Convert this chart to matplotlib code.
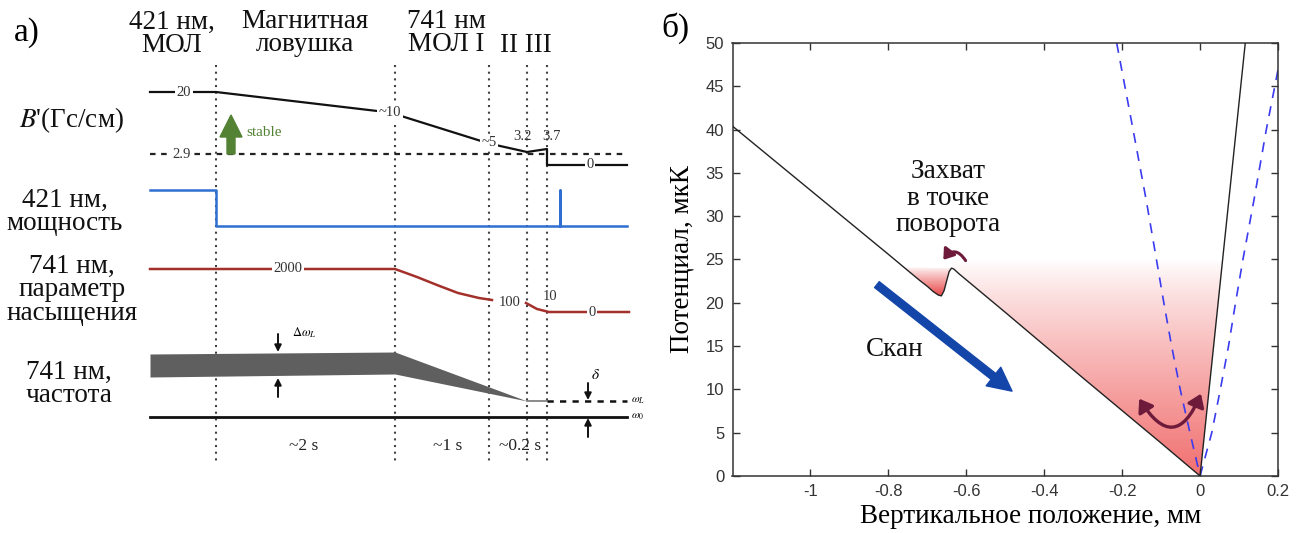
import numpy as np
import matplotlib
matplotlib.use("Agg")
import matplotlib.pyplot as plt
from matplotlib.patches import Polygon, FancyArrowPatch

plt.rcParams['font.family'] = ['Liberation Serif', 'DejaVu Serif']
plt.rcParams['mathtext.fontset'] = 'stix'

# ---------------- panel a) : timing diagram (schematic units) ----------------
phase_edges = [216, 395, 489, 527, 547]
phase_names = ['421 нм,\nМОЛ', 'Магнитная\nловушка', '741 нм\nМОЛ I', 'II III']
phase_name_x = [172, 305, 446, 526]
phase_name_y = [34, 33, 33, 45]
durations = ['~2 s', '~1 s', '~0.2 s']
duration_x = [304, 448, 520]

row_names = ["$B$'(Гс/см)", '421 нм,\nмощность', '741 нм,\nпараметр\nнасыщения', '741 нм,\nчастота']
row_name_x = [71, 65, 72, 69]
row_name_y = [120, 212, 290, 384]

# magnetic field gradient B' (Гс/см)
bgrad_t = [150, 216, 390, 489, 527, 547, 547, 627]
bgrad_y = [92, 92, 112.5, 143.5, 152, 149, 165, 165]
bgrad_labels = ['20', '~10', '~5', '0']
bgrad_label_t = [184, 390, 489, 590]
bgrad_label_y = [92, 113, 143, 165]
bgrad_top_labels = ['3.2', '3.7']
bgrad_top_t = [522, 551]
stable_level = 154          # 2.9 Гс/см
stable_label = '2.9'

# 421 nm power
p421_t = [150, 216, 216, 560, 560, 560, 627]
p421_y = [190, 190, 226, 226, 190, 226, 226]

# 741 nm saturation parameter
s741_t = [150, 395, 417, 437, 458, 479, 492, np.nan, 526, 537, 549, 629]
s741_y = [269, 269, 277, 285, 293, 298, 300, np.nan, 303, 309, 312, 312]
s741_labels = ['2000', '100', '10', '0']
s741_label_t = [288, 510, 550, 592]
s741_label_y = [269, 302, 296, 312]

# 741 nm frequency band (width = linewidth)
band_t = [150, 395, 527]
band_top = [354, 352, 401]
band_bot = [377, 374, 401]
omega_l = 401
omega_0 = 417

# ---------------- panel б) : potential vs vertical position ----------------
pos_mm = [-1.2, -1.0, -0.9, -0.8, -0.76, -0.72, -0.70, -0.685, -0.672, -0.664,
          -0.657, -0.650, -0.644, -0.638, -0.632, -0.62, -0.5, -0.3, -0.1, 0.0,
          0.06, 0.116]
pot_uK = [40.4, 33.0, 29.3, 25.6, 24.1, 22.6, 21.9, 21.3, 20.9, 20.8,
          21.4, 22.6, 23.6, 24.0, 23.9, 23.4, 18.9, 11.3, 3.8, 0.0,
          25.9, 50.0]
dash_left_x = [-0.214, -0.172, -0.138, -0.112, -0.093, -0.073, -0.051, -0.026, 0.0]
dash_left_y = [50, 40, 31.8, 25, 20, 15, 10, 5, 0]
dash_right_x = [0.0, 0.03, 0.052, 0.073, 0.091, 0.11, 0.138, 0.17, 0.2]
dash_right_y = [0, 5, 10, 15, 20, 25, 31.8, 40, 46.9]
xticks = [-1, -0.8, -0.6, -0.4, -0.2, 0, 0.2]
xtick_labels = ['-1', '-0.8', '-0.6', '-0.4', '-0.2', '0', '0.2']
yticks = list(range(0, 51, 5))

W, H = 1306, 533
fig = plt.figure(figsize=(W / 100, H / 100), dpi=100)

# ======== left panel ========
axl = fig.add_axes([0, 0, 650 / W, 1])
axl.set_xlim(0, 650)
axl.set_ylim(533, 0)
axl.axis('off')

txt = dict(fontsize=19.5, color='#111111')
val = dict(fontsize=10.5, color='#333333', ha='center', va='center')
wbox = dict(facecolor='white', edgecolor='none', pad=1.0)

fig.text(27 / W, 1 - 33 / H, 'а)', fontsize=24, ha='center', va='center')

for name, x, y in zip(phase_names, phase_name_x, phase_name_y):
    axl.text(x, y, name, ha='center', va='center', linespacing=0.88, **txt)
for name, x, y in zip(row_names, row_name_x, row_name_y):
    axl.text(x, y, name, ha='center', va='center', linespacing=0.9, **txt)
for d, x in zip(durations, duration_x):
    axl.text(x, 446, d, ha='center', va='center', fontsize=12.5, color='#222222')

for t in phase_edges:
    axl.plot([t, t], [65, 463], color='#444444', lw=1.5, ls=(0, (1, 2.2)), zorder=1)

# B'
axl.plot([150, 627], [stable_level, stable_level], color='#222222', lw=1.6,
         ls=(0, (2.5, 2.5)), zorder=2)
axl.text(182, stable_level, stable_label, bbox=wbox, zorder=4, **val)
axl.plot(bgrad_t, bgrad_y, color='#111111', lw=1.6, zorder=3)
for s, t, y in zip(bgrad_labels, bgrad_label_t, bgrad_label_y):
    axl.text(t, y, s, bbox=wbox, zorder=4, **val)
for s, t in zip(bgrad_top_labels, bgrad_top_t):
    axl.text(t, 136, s, zorder=4, **val)
axl.arrow(231, stable_level, 0, -39, width=8, head_width=22, head_length=22,
          length_includes_head=True, color='#548235', zorder=5)
axl.text(246, 133, 'stable', fontsize=11, color='#548235', ha='left', va='center')

# 421 nm power
axl.plot(p421_t, p421_y, color='#2e6fd1', lw=1.8, zorder=3)

# 741 nm saturation
axl.plot(s741_t, s741_y, color='#a3302a', lw=1.8, zorder=3)
for s, t, y in zip(s741_labels, s741_label_t, s741_label_y):
    axl.text(t, y, s, bbox=wbox, zorder=4, **val)

# 741 nm frequency
axl.fill_between(band_t, band_top, band_bot, color='#5f5f5f', lw=0, zorder=3)
axl.plot([527, 547], [omega_l, omega_l], color='#777777', lw=1.2, zorder=3)
axl.plot([547, 627], [omega_l, omega_l], color='#111111', lw=1.8,
         ls=(0, (2.5, 2.5)), zorder=3)
axl.plot([150, 627], [omega_0, omega_0], color='#111111', lw=2.0, zorder=3)
axl.text(631, omega_l, r'$\omega_L$', fontsize=8, ha='left', va='center')
axl.text(631, omega_0, r'$\omega_0$', fontsize=8, ha='left', va='center')

arr = dict(arrowstyle='-|>', color='#111111', lw=1.4, mutation_scale=10,
           shrinkA=0, shrinkB=0)
axl.annotate('', xy=(278, 352), xytext=(278, 334), arrowprops=arr)
axl.annotate('', xy=(278, 378), xytext=(278, 397), arrowprops=arr)
axl.text(292, 333, r'$\Delta\omega_L$', fontsize=9, ha='left', va='center')
axl.annotate('', xy=(588, 400), xytext=(588, 383), arrowprops=arr)
axl.annotate('', xy=(588, 418), xytext=(588, 437), arrowprops=arr)
axl.text(596, 375, r'$\delta$', fontsize=11, ha='center', va='center')

# ======== right panel ========
x0, x1 = 732.5, 1278.0
yb, yt = 476.0, 43.0
ax = fig.add_axes([x0 / W, 1 - yb / H, (x1 - x0) / W, (yb - yt) / H])
ax.set_xlim(-1.2, 0.2)
ax.set_ylim(0, 50)

pos = np.array(pos_mm)
pot = np.array(pot_uK)

# red gradient fill in the trap region
red = np.array([0.93, 0.28, 0.28])
ny = 200
gy = np.linspace(0, 25, ny)[:, None]
alpha = np.clip((25 - gy) / 25, 0, 1) ** 0.85 * 0.78
img = np.zeros((ny, 2, 4))
img[..., :3] = red
img[..., 3] = alpha
im = ax.imshow(img, extent=(-0.7, 0.1, 0, 25), origin='lower', aspect='auto',
               interpolation='bilinear', zorder=1)
m = (pos >= -0.638) & (pos <= 0.0)
verts = list(zip(pos[m], pot[m])) + [(25 / 432.0, 25), (-0.638, 25)]
clip = Polygon(verts, closed=True, transform=ax.transData, facecolor='none', edgecolor='none')
ax.add_patch(clip)
im.set_clip_path(clip)

gy2 = np.linspace(20.5, 24.1, ny)[:, None]
alpha2 = np.clip((24.1 - gy2) / 3.3, 0, 1) ** 0.9 * 0.85
img2 = np.zeros((ny, 2, 4))
img2[..., :3] = np.array([0.9, 0.18, 0.18])
img2[..., 3] = alpha2
im2 = ax.imshow(img2, extent=(-0.78, -0.63, 20.5, 24.1), origin='lower', aspect='auto',
                interpolation='bilinear', zorder=1)
m2 = (pos >= -0.76) & (pos <= -0.638)
clip2 = Polygon(list(zip(pos[m2], pot[m2])), closed=True, transform=ax.transData,
                facecolor='none', edgecolor='none')
ax.add_patch(clip2)
im2.set_clip_path(clip2)

ax.plot(dash_left_x, dash_left_y, color='#3b3bf0', lw=1.2, ls=(0, (6, 5)), zorder=2)
ax.plot(dash_right_x, dash_right_y, color='#3b3bf0', lw=1.2, ls=(0, (6, 5)), zorder=2)
ax.plot(pos, pot, color='#222222', lw=1.0, zorder=3)

# scan arrow
ax.add_patch(FancyArrowPatch((-0.835, 22.3), (-0.477, 9.6),
                             arrowstyle='simple,head_length=0.85,head_width=0.85,tail_width=0.27',
                             mutation_scale=20, color='#1446aa', zorder=4))
ax.text(-0.783, 14.6, 'Скан', fontsize=19.5, ha='center', va='center', color='#111111')
ax.text(-0.647, 32.1, 'Захват\nв точке\nповорота', fontsize=19.5, ha='center', va='center',
        linespacing=1.08, color='#111111')

maroon = '#6e1a3a'
ax.add_patch(FancyArrowPatch((-0.598, 24.6), (-0.663, 24.7), connectionstyle='arc3,rad=0.8',
                             arrowstyle='-|>,head_length=0.5,head_width=0.35', mutation_scale=12,
                             color=maroon, lw=2.2, zorder=5))
ax.add_patch(FancyArrowPatch((-0.16, 9.2), (0.005, 9.8), connectionstyle='arc3,rad=1.0',
                             arrowstyle='<|-|>,head_length=0.5,head_width=0.35', mutation_scale=15,
                             color=maroon, lw=2.4, zorder=5))

ax.set_xticks(xticks)
ax.set_xticklabels(xtick_labels)
ax.set_yticks(yticks)
ax.tick_params(direction='in', top=True, right=True, length=5, width=1.0,
               labelsize=12, colors='#333333', pad=6)
for lab in ax.get_xticklabels() + ax.get_yticklabels():
    lab.set_family(['Liberation Sans', 'DejaVu Sans'])
for sp in ax.spines.values():
    sp.set_linewidth(1.1)
    sp.set_color('#333333')

ax.set_xlabel('Вертикальное положение, мм', fontsize=19.5)
ax.xaxis.set_label_coords(0.547, -0.065)
ax.set_ylabel('Потенциал, мкК', fontsize=19.5)
ax.yaxis.set_label_coords(-0.07, 0.5)

fig.text(675 / W, 1 - 28 / H, 'б)', fontsize=24, ha='center', va='center')

fig.savefig('out.png', dpi=100)
